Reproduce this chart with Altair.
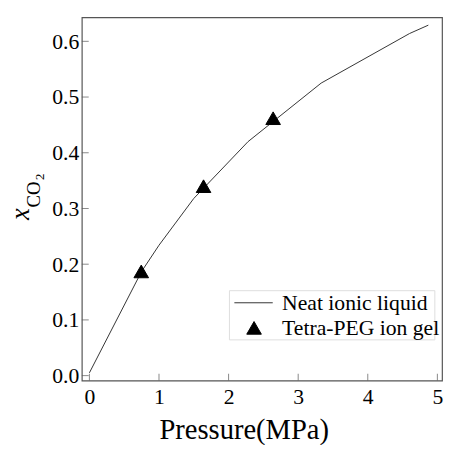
import altair as alt
import pandas as pd

# Neat ionic liquid (line)
p_line = [0.0, 0.75, 1.0, 1.5, 2.28, 3.33, 4.6, 4.87]
x_line = [0.005, 0.187, 0.234, 0.318, 0.42, 0.525, 0.614, 0.629]
# Tetra-PEG ion gel (triangles)
p_gel = [0.745, 1.64, 2.64]
x_gel = [0.187, 0.340, 0.462]

series_names = ["Neat ionic liquid", "Tetra-PEG ion gel"]
x_ticks = [0, 1, 2, 3, 4, 5]
y_ticks = [0.0, 0.1, 0.2, 0.3, 0.4, 0.5, 0.6]

FONT = "Liberation Serif"
W, H = 366, 369

df_line = pd.DataFrame({"p": p_line, "x": x_line})
df_gel = pd.DataFrame({"p": p_gel, "x": x_gel})
df_xt = pd.DataFrame({"p": x_ticks})
df_yt = pd.DataFrame({"x": y_ticks})

xscale = alt.Scale(domain=[-0.109, 5.067], nice=False, zero=False)
yscale = alt.Scale(domain=[-0.0088, 0.643], nice=False, zero=False)

xaxis = alt.Axis(values=x_ticks, format="d", title="Pressure(MPa)", titleFont=FONT,
                 titleFontSize=29, titleFontWeight="normal", titleColor="black",
                 titleX=164.5, titleY=59, titleBaseline="alphabetic", titleAlign="center",
                 labelPadding=6)
yaxis = alt.Axis(values=y_ticks, format=".1f", title=None, labelPadding=3)

line = alt.Chart(df_line).mark_line(color="#333333", strokeWidth=1).encode(
    x=alt.X("p:Q", scale=xscale, axis=xaxis),
    y=alt.Y("x:Q", scale=yscale, axis=yaxis),
)

tri = alt.Chart(df_gel).mark_point(filled=True, fill="black", stroke="black",
                                   strokeWidth=1, opacity=1, shape="triangle-up",
                                   size=220).encode(
    x=alt.X("p:Q", scale=xscale),
    y=alt.Y("x:Q", scale=yscale),
)

xt = alt.Chart(df_xt).mark_tick(color="#555555", thickness=1, size=7).encode(
    x=alt.X("p:Q", scale=xscale), y=alt.value(H - 3.5))
yt = alt.Chart(df_yt).mark_tick(color="#555555", thickness=1, size=7, orient="horizontal").encode(
    y=alt.Y("x:Q", scale=yscale), x=alt.value(3.5))


def txt(t, px, py, size, angle=0, italic=False, align="center", baseline="alphabetic"):
    props = dict(font=FONT, fontSize=size, fontStyle="italic" if italic else "normal",
                 align=align, baseline=baseline, color="black")
    if angle:
        props["angle"] = angle
    return alt.Chart(pd.DataFrame({"t": [t]})).mark_text(**props).encode(
        text="t:N", x=alt.value(px), y=alt.value(py))


ttl = (txt("x", -54, 200, 27, 270, True) + txt("CO", -42, 180, 19, 270)
       + txt("2", -38, 162, 13, 270))

# legend (drawn as marks)
leg_box = alt.Chart(pd.DataFrame({"a": [0]})).mark_rect(
    fill="white", stroke="#dddddd", strokeWidth=1).encode(
    x=alt.value(150), x2=alt.value(358.7), y=alt.value(277.7), y2=alt.value(327.7))
leg_line = alt.Chart(pd.DataFrame({"a": [0]})).mark_rule(
    color="#333333", strokeWidth=1).encode(
    x=alt.value(155), x2=alt.value(194), y=alt.value(290))
leg_tri = alt.Chart(pd.DataFrame({"a": [0]})).mark_point(
    filled=True, fill="black", stroke="black", strokeWidth=1, opacity=1,
    shape="triangle-up", size=220).encode(x=alt.value(175), y=alt.value(315.5))
leg_txt = (txt(series_names[0], 203.5, 290, 22, align="left", baseline="middle")
           + txt(series_names[1], 203.5, 315.5, 22, align="left", baseline="middle"))

chart = alt.layer(line, tri, xt, yt, ttl, leg_box, leg_line, leg_tri, leg_txt).properties(
    width=W, height=H,
    autosize=alt.AutoSizeParams(type="none"),
    padding={"left": 75, "top": 6, "right": 2, "bottom": 62},
).configure_view(stroke="#555555", strokeWidth=1.2).configure_axis(
    domain=False, ticks=False, grid=False, labelFont=FONT, labelFontSize=22,
    labelColor="black")

chart.save("out.html", embed_options={"renderer": "svg", "actions": False})
